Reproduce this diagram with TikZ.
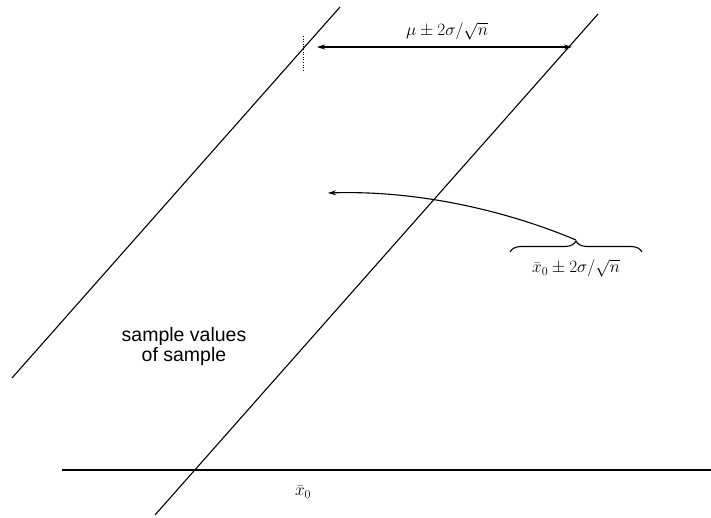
\documentclass[tikz,border=0pt]{standalone}
\usepackage{fontspec}
\setmainfont{Liberation Sans}
\usetikzlibrary{arrows.meta,decorations.pathreplacing}
\begin{document}
\begin{tikzpicture}[x=1pt,y=-1pt,
  ln/.style={line width=1.1pt},
  tip/.style={-{Stealth[length=8pt,width=5pt]}},
  lbl/.style={inner sep=0pt, font=\fontsize{17}{20}\selectfont},
  txt/.style={align=center, inner sep=0pt, font=\fontsize{19.5}{20}\selectfont}]
\useasboundingbox (0,0) rectangle (711,517);
% endpoints
\coordinate (L1) at (340,7);
\coordinate (L2) at (12,378);
\coordinate (R1) at (598,14);
\coordinate (R2) at (155,515);
\coordinate (H1) at (62,470);
\coordinate (H2) at (711,470);
\draw[ln] (L1) -- (L2);
\draw[ln] (R1) -- (R2);
\draw[ln] (H1) -- (H2);
% top interval arrow
\coordinate (A1) at (317,47);
\coordinate (A2) at (572,47);
\draw[ln, {Stealth[length=8pt,width=5pt]}-{Stealth[length=8pt,width=5pt]}] (A1) -- (A2);
\node[lbl] (mu) at (447,31) {$\mu \pm 2\sigma/\sqrt{n}$};
\coordinate (D1) at (303,36);
\coordinate (D2) at (303,70);
\draw[line width=0.6pt, dotted] (D1) -- (D2);
% brace and label
\coordinate (B1) at (510,252);
\coordinate (B2) at (642,252);
\coordinate (BT) at (576,240);
\draw[ln, decorate, decoration={brace, amplitude=11pt}] (B1) -- (B2);
\node[lbl] (xl) at (576,268) {$\bar{x}_0 \pm 2\sigma/\sqrt{n}$};
% curved arrow
\coordinate (CE) at (328,193);
\draw[ln, tip] (BT) .. controls (510,212) and (420,190) .. (CE);
% text
\node[txt] (sv) at (184,346) {sample values\\of sample};
\node[lbl] (x0) at (303,492) {$\bar{x}_0$};
\end{tikzpicture}
\end{document}
